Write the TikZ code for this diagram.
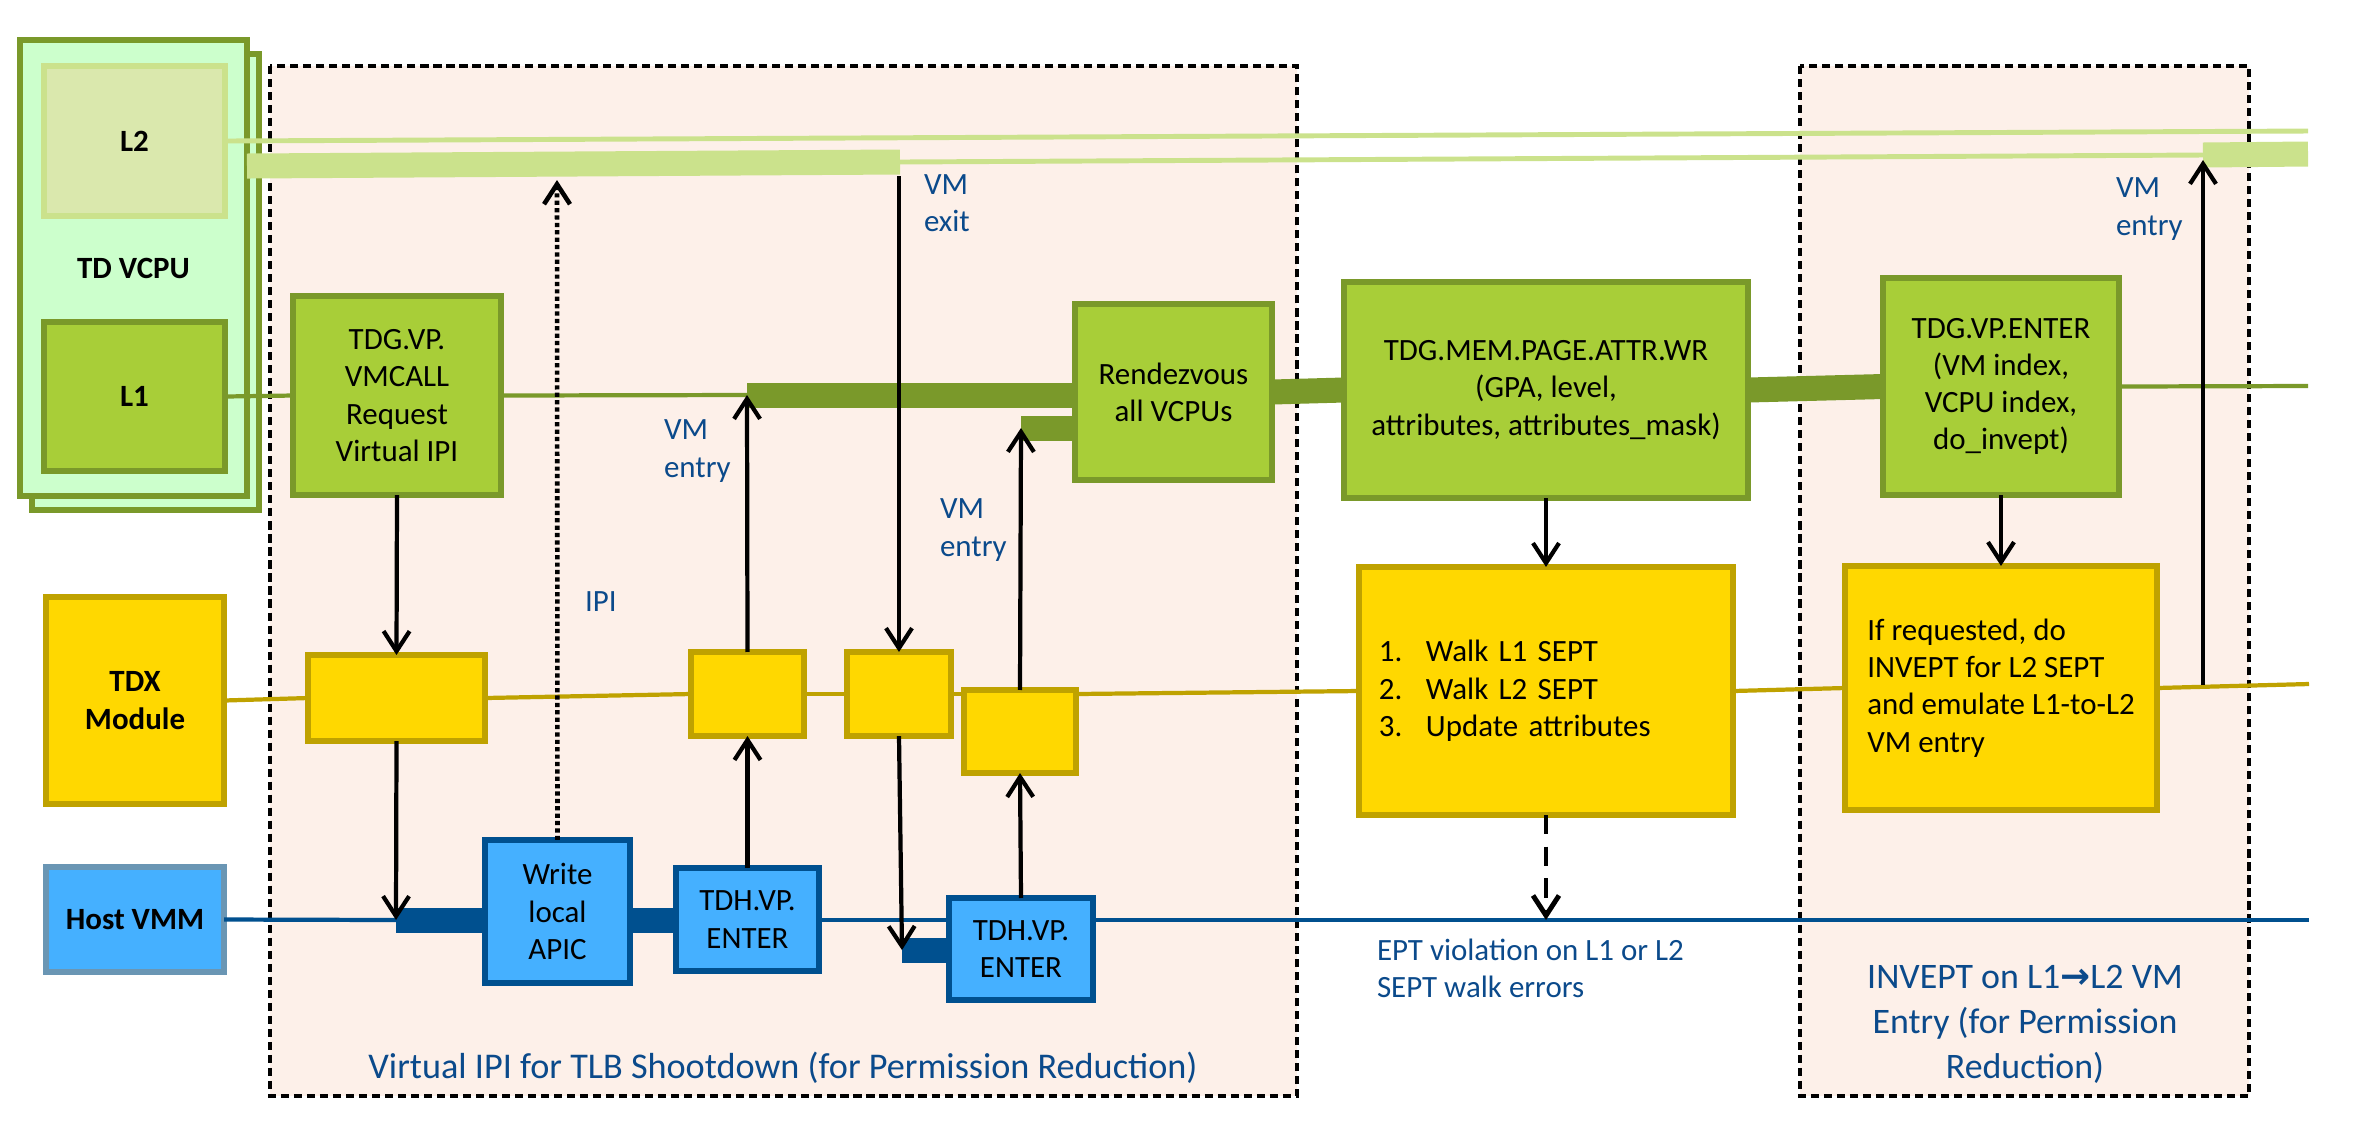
\documentclass[tikz,border=0pt]{standalone}
\usepackage{fontspec}
\setmainfont{Carlito}
\newfontfamily\arrowfont{DejaVu Sans}
\usetikzlibrary{arrows.meta}

\definecolor{vcpufill}{HTML}{CCFFCC}
\definecolor{olive}{HTML}{7A992A}
\definecolor{ltwofill}{HTML}{DAE8AD}
\definecolor{ltwoline}{HTML}{CBE28C}
\definecolor{lonefill}{HTML}{A8CE38}
\definecolor{tdxfill}{HTML}{FFD800}
\definecolor{tdxline}{HTML}{BFA200}
\definecolor{vmmfill}{HTML}{45B0FF}
\definecolor{vmmline}{HTML}{00508F}
\definecolor{vmmgray}{HTML}{6A96B4}
\definecolor{peach}{HTML}{FDF0E9}
\definecolor{labelblue}{HTML}{0B4A8B}

\begin{document}
\begin{tikzpicture}[x=0.01cm, y=-0.01cm,
  every node/.style={font=\fontsize{8.8}{10.6}\selectfont, inner sep=0pt, outer sep=0pt},
  box/.style={draw, line width=1.6pt, align=center},
  greenbox/.style={box, draw=olive, fill=lonefill},
  yellowbox/.style={box, draw=tdxline, fill=tdxfill},
  bluebox/.style={box, draw=vmmline, fill=vmmfill},
  lane/.style={font=\fontsize{8.8}{10.6}\selectfont\bfseries},
  phase/.style={draw, line width=0.9pt, dash pattern=on 2.3pt off 1.4pt, fill=peach},
  note/.style={text=labelblue, align=left, anchor=west},
  title/.style={text=labelblue, align=center, font=\fontsize{10.3}{12.8}\selectfont},
  flow/.style={line width=1.2pt, -{Straight Barb[length=2mm, width=2.6mm]}},
  ipi/.style={flow, line width=1.3pt, dash pattern=on 1.2pt off 0.9pt},
  fault/.style={flow, line width=1.4pt, dash pattern=on 5.5pt off 3.5pt},
  ltwo/.style={draw=ltwoline, line width=1.4pt},
  lone/.style={draw=olive, line width=1.2pt},
  tdxl/.style={draw=tdxline, line width=1.2pt},
  vmml/.style={draw=vmmline, line width=1.2pt},
  thickbar/.style={line width=0.25cm},
]
\useasboundingbox (0,0) rectangle (2357,1144);

% phases
\draw[phase] (270,66) rectangle (1297,1096);
\draw[phase] (1800,66) rectangle (2249,1096);

% lanes
\node[box, draw=olive, fill=vcpufill, minimum width=2.27cm, minimum height=4.56cm] (vcpuback) at (145.5,282) {};
\node[box, draw=olive, fill=vcpufill, minimum width=2.27cm, minimum height=4.56cm, lane] (vcpu) at (133.5,268) {TD VCPU};
\node[box, draw=ltwoline, fill=ltwofill, minimum width=1.81cm, minimum height=1.5cm, lane] (ltwo) at (134.5,141) {L2};
\node[greenbox, minimum width=1.81cm, minimum height=1.49cm, lane] (lone) at (134.5,396.5) {L1};
\node[yellowbox, minimum width=1.78cm, minimum height=2.07cm, lane] (tdx) at (135,700.5) {TDX\\Module};
\node[bluebox, draw=vmmgray, minimum width=1.78cm, minimum height=1.05cm, lane] (host) at (135,919.5) {Host VMM};

% virtual IPI
\node[greenbox, minimum width=2.08cm, minimum height=1.99cm] (vmcall) at (397,395.5) {TDG.VP.\\VMCALL\\Request\\Virtual IPI};
\node[yellowbox, minimum width=1.77cm, minimum height=0.86cm] (ya) at (396.5,698) {};
\node[bluebox, minimum width=1.45cm, minimum height=1.43cm] (apic) at (557.5,911.5) {Write\\local\\APIC};
\node[bluebox, minimum width=1.43cm, minimum height=1.03cm] (tdhA) at (747.5,919.5) {TDH.VP.\\ENTER};
\node[yellowbox, minimum width=1.13cm, minimum height=0.84cm] (yb) at (747.5,694) {};
\node[yellowbox, minimum width=1.04cm, minimum height=0.84cm] (yc) at (899,694) {};
\node[yellowbox, minimum width=1.12cm, minimum height=0.83cm] (yd) at (1020,731.5) {};
\node[bluebox, minimum width=1.44cm, minimum height=1.02cm] (tdhB) at (1021,949) {TDH.VP.\\ENTER};
\node[greenbox, minimum width=1.97cm, minimum height=1.76cm] (rdv) at (1173.5,392) {Rendezvous\\all VCPUs};

% page attributes write
\node[greenbox, minimum width=4.04cm, minimum height=2.16cm] (attr) at (1546,390) {TDG.MEM.PAGE.ATTR.WR\\(GPA, level,\\attributes, attributes\_mask)};
\node[yellowbox, text width=3.34cm, inner xsep=0.2cm, minimum height=2.48cm, align=left] (walk) at (1546,691) {\makebox[0.47cm][l]{1.}Walk L1 SEPT\\\makebox[0.47cm][l]{2.}Walk L2 SEPT\\\makebox[0.47cm][l]{3.}Update attributes};

% invept
\node[greenbox, minimum width=2.36cm, minimum height=2.17cm] (enter) at (2001,386.5) {TDG.VP.ENTER\\(VM index,\\VCPU index,\\do\_invept)};
\node[yellowbox, minimum width=3.12cm, minimum height=2.44cm, align=left] (invept) at (2001,688) {If requested, do\\INVEPT for L2 SEPT\\and emulate L1-to-L2\\VM entry};

% L2 timeline
\coordinate (exit) at (900,162);
\coordinate (reentry) at (2203,155);
\draw[ltwo] (ltwo.east) -- (2308,131);
\draw[ltwoline, thickbar] (247,166) -- (exit);
\draw[ltwo] (exit) -- (reentry);
\draw[ltwoline, thickbar] (reentry) -- (2308,154);

% L1 timeline
\coordinate (entA) at (747,395);
\coordinate (entB) at (1021,428);
\draw[lone] (lone.east) -- (vmcall.west);
\draw[lone] (vmcall.east) -- (entA);
\draw[olive, thickbar] (entA) -- (rdv.west |- entA);
\draw[olive, thickbar] (entB) -- (rdv.west |- entB);
\draw[olive, thickbar] (rdv.east) -- (attr.west);
\draw[olive, thickbar] (attr.east) -- (enter.west);
\draw[lone] (enter.east) -- (2308,386);

% TDX module timeline
\coordinate (ventC) at (2203,685);
\draw[tdxl] (tdx.east) -- (ya.west);
\draw[tdxl] (ya.east) -- (yb.west);
\draw[tdxl] (yb.east) -- (yc.west);
\draw[tdxl] (yc.east) -- (yc.east -| yd.west);
\draw[tdxl] (yd.east |- yc.east) -- (walk.west);
\draw[tdxl] (walk.east) -- (invept.west);
\draw[tdxl] (invept.east) -- (2309,684);

% host timeline
\coordinate (drop) at (396,920);
\coordinate (dropB) at (902,950);
\draw[vmml] (host.east) -- (drop);
\draw[vmmline, thickbar] (drop) -- (apic.west |- drop);
\draw[vmmline, thickbar] (apic.east |- drop) -- (tdhA.west |- drop);
\draw[vmml] (tdhA.east |- drop) -- (tdhB.west |- drop);
\draw[vmmline, thickbar] (dropB) -- (tdhB.west |- dropB);
\draw[vmml] (tdhB.east |- drop) -- (2309,920);

% transitions
\coordinate (exitfoot) at (899,176);
\draw[flow] (vmcall.south) -- (ya.north);
\draw[flow] (ya.south) -- (drop);
\draw[ipi] (apic.north) -- (557,180);
\draw[flow] (tdhA.north) -- (yb.south);
\draw[flow] (yb.north) -- (entA);
\draw[flow] (exitfoot) -- (yc.north);
\draw[flow] (yc.south) -- (dropB);
\draw[flow] (tdhB.north) -- (yd.south);
\draw[flow] (yd.north) -- (entB);
\draw[flow] (attr.south) -- (walk.north);
\draw[fault] (walk.south) -- (walk.south |- drop);
\draw[flow] (enter.south) -- (invept.north);
\draw[flow] (ventC) -- (2203,160);

% labels
\node[note] (ipilbl) at (585,602) {IPI};
\node[note] (entAlbl) at (664,451) {VM\\entry};
\node[note] (exitlbl) at (924,203) {VM\\exit};
\node[note] (entBlbl) at (940,530) {VM\\entry};
\node[note] (entClbl) at (2116,209) {VM\\entry};
\node[note] (eptlbl) at (1377,968) {EPT violation on L1 or L2\\SEPT walk errors};
\node[title] (ipititle) at (783,1068) {Virtual IPI for TLB Shootdown (for Permission Reduction)};
\node[title, font=\fontsize{10.2}{12.8}\selectfont] (invtitle) at (2025,1024) {INVEPT on L1{\arrowfont\bfseries →}L2 VM\\Entry (for Permission\\Reduction)};

\end{tikzpicture}
\end{document}
